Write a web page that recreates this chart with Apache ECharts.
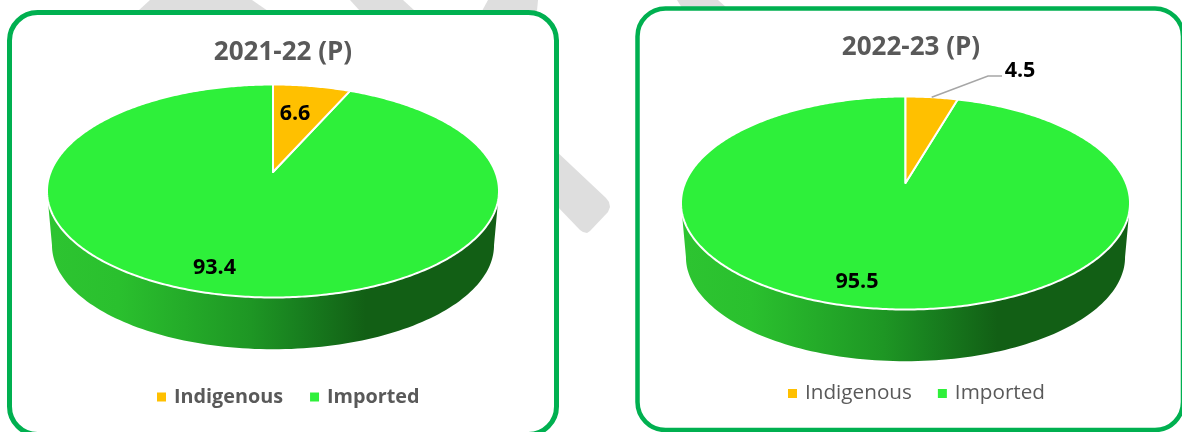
<!DOCTYPE html>
<html><head><meta charset="utf-8">
<style>html,body{margin:0;padding:0;background:#fff}#c{width:1182px;height:432px}</style>
<script src="https://cdn.jsdelivr.net/npm/echarts@6/dist/echarts.min.js"></script>
</head><body><div id="c"></div>
<script>
const sliceNames = ['Indigenous', 'Imported'];
const sliceColors = ['#FFC000', '#2EF03A'];
const titles = ['2021-22 (P)', '2022-23 (P)'];
const values2122 = [6.6, 93.4];
const values2223 = [4.5, 95.5];

const FONT = '"Open Sans","Noto Sans",sans-serif';
const pies = [
  {values: values2122, x0: 273, y0: 172, up: 87.5, down: 125.5, half: 226, depth: 54.5, left: 52, right: 494,
   labels: [[295, 114], [214.5, 268]]},
  {values: values2223, x0: 905.5, y0: 183, up: 86.5, down: 126.5, half: 224.5, depth: 54.5, left: 686, right: 1125,
   labels: [[1020, 71], [857, 282]], leader: 0}
];
function projector(p) {
  const k = (p.down - p.up) / (p.down + p.up);
  const B = p.up * (1 + k), A = p.half * Math.sqrt(1 - k * k);
  return {k, at(deg, s, dy) {
    const t = deg * Math.PI / 180, u = Math.sin(t), v = Math.cos(t), w = 1 + k * v;
    return [p.x0 + s * A * u / w, p.y0 + (dy || 0) - s * B * v / w];
  }};
}
function makeRender(pieIdx, sliceIdx) {
  return function (params, api) {
    const p = pies[pieIdx], pr = projector(p);
    const total = p.values.reduce((a, b) => a + b, 0);
    const before = p.values.slice(0, sliceIdx).reduce((a, b) => a + b, 0);
    const a0 = before / total * 360, a1 = a0 + api.value(0) / total * 360;
    const children = [];
    const tan = Math.acos(-pr.k) * 180 / Math.PI;
    const w0 = Math.max(a0, tan), w1 = Math.min(a1, 360 - tan);
    if (w1 > w0) {
      const pts = [];
      for (let i = 0; i <= 120; i++) pts.push(pr.at(w0 + (w1 - w0) * i / 120, 1));
      for (let i = 120; i >= 0; i--) pts.push(pr.at(w0 + (w1 - w0) * i / 120, 0.978, p.depth));
      children.push({type: 'polygon', shape: {points: pts}, style: {
        fill: new echarts.graphic.LinearGradient(p.left, 0, p.right, 0, [
          {offset: 0, color: '#2DC431'}, {offset: 0.15, color: '#2AC02E'},
          {offset: 0.45, color: '#1E9624'}, {offset: 0.56, color: '#187F1F'},
          {offset: 0.71, color: '#125F15'}, {offset: 1, color: '#125F15'}], true)}});
    }
    const top = [[p.x0, p.y0]];
    const n = Math.max(8, Math.round((a1 - a0) * 1.5));
    for (let i = 0; i <= n; i++) top.push(pr.at(a0 + (a1 - a0) * i / n, 1));
    children.push({type: 'polygon', shape: {points: top},
      style: {fill: sliceColors[sliceIdx], stroke: '#fff', lineWidth: 2, lineJoin: 'round'}});
    const lp = p.labels[sliceIdx];
    if (p.leader === sliceIdx) {
      const m = pr.at((a0 + a1) / 2, 1);
      children.push({type: 'polyline', shape: {points: [m, [lp[0] - 32, lp[1] + 5], [lp[0] - 18, lp[1] + 5]]},
        style: {stroke: '#A6A6A6', lineWidth: 1.5, fill: null}});
    }
    children.push({type: 'text', x: lp[0], y: lp[1], z2: 10, style: {
      text: String(api.value(0)), fill: '#000', font: 'bold 21.5px ' + FONT, align: 'center', verticalAlign: 'middle'}});
    return {type: 'group', children};
  };
}
const series = [];
[1, 0].forEach(s => pies.forEach((p, i) => series.push({
  type: 'custom', name: sliceNames[s], coordinateSystem: 'none', silent: true,
  itemStyle: {color: sliceColors[s]}, data: [[p.values[s]]],
  renderItem: makeRender(i, s), animation: false
})));
const gray = '#DEDEDE';
const bars = [
  [[138,11],[150,0],[252,0],[268,11]],
  [[350,0],[403,0],[415,11],[360,11]],
  [[488,0],[538,0],[537,11],[482,11]],
  [[677,0],[718,0],[727,8],[682,8]],
  [[555,150],[606,198],[609,202],[610,207],[608,212],[590,231],[587,233],[583,232],[580,230],[555,204]]
];
const chart = echarts.init(document.getElementById('c'), null, {renderer: 'canvas'});
chart.setOption({
  animation: false,
  backgroundColor: '#fff',
  title: [
    {text: titles[0], left: 283, top: 53, textAlign: 'center', textVerticalAlign: 'middle', padding: 0,
     textStyle: {fontFamily: FONT, fontWeight: 'bold', fontSize: 26, color: '#595959'}},
    {text: titles[1], left: 911, top: 48, textAlign: 'center', textVerticalAlign: 'middle', padding: 0,
     textStyle: {fontFamily: FONT, fontWeight: 'bold', fontSize: 26, color: '#595959'}}
  ],
  legend: [
    {data: sliceNames, left: 157, top: 387, icon: 'rect', itemWidth: 9, itemHeight: 9, itemGap: 27, padding: 0, selectedMode: false,
     textStyle: {fontFamily: FONT, fontWeight: 'bold', fontSize: 19.8, color: '#595959', padding: [0, 0, 0, 3]}},
    {data: sliceNames, left: 788, top: 383, icon: 'rect', itemWidth: 9, itemHeight: 9, itemGap: 26, padding: 0, selectedMode: false,
     textStyle: {fontFamily: FONT, fontWeight: 'normal', fontSize: 20.7, color: '#595959', padding: [0, 0, 0, 3]}}
  ],
  graphic: [
    ...bars.map(b => ({type: 'polygon', shape: {points: b}, style: {fill: gray}, silent: true})),
    {type: 'rect', shape: {x: 9.5, y: 12.5, width: 547, height: 422, r: 28},
     style: {fill: '#fff', stroke: '#00B050', lineWidth: 5}, silent: true},
    {type: 'rect', shape: {x: 637.5, y: 8.5, width: 545.5, height: 421.5, r: 28},
     style: {fill: '#fff', stroke: '#00B050', lineWidth: 4.5}, silent: true}
  ],
  series
});
</script></body></html>
